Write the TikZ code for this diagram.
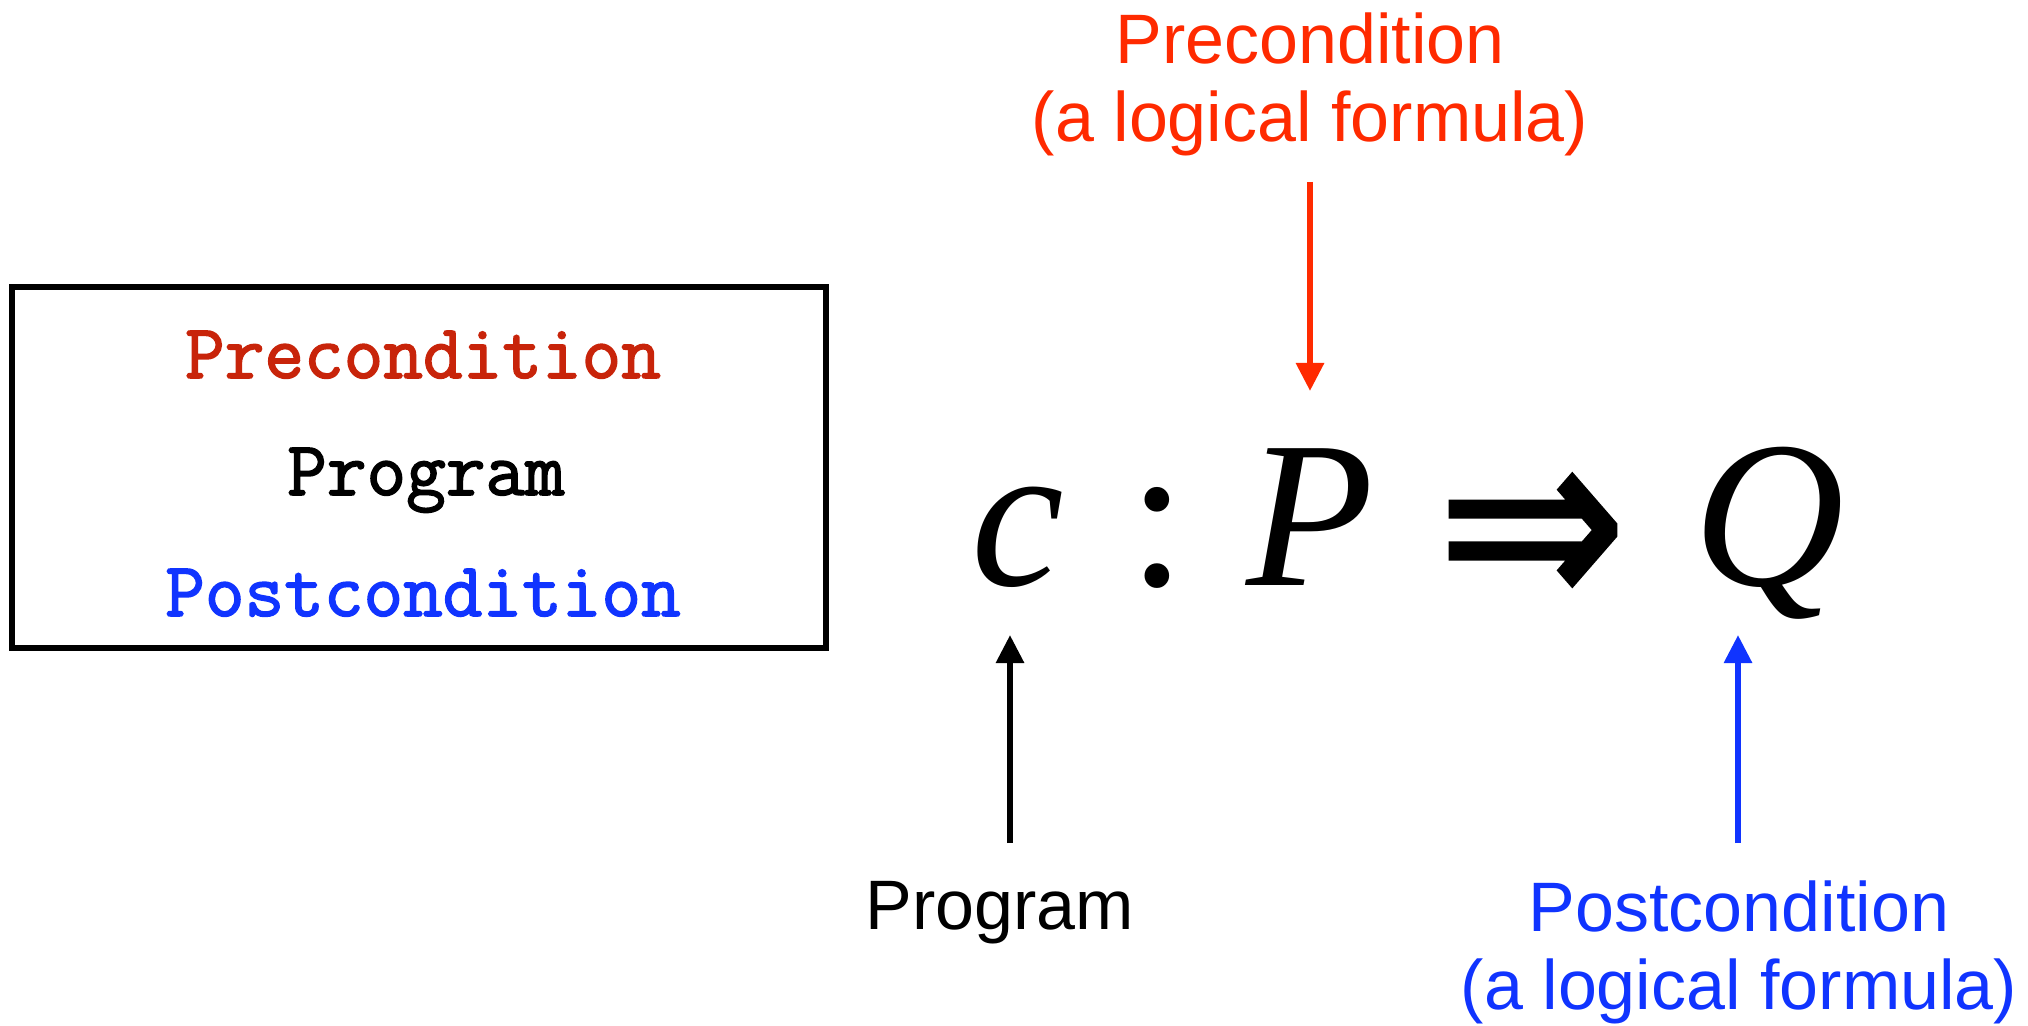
\documentclass[tikz,border=0pt]{standalone}
\usepackage{fontspec}
\usepackage{graphicx}
\setmainfont{Liberation Sans}
\newfontfamily\tms{Liberation Serif}
\newfontfamily\djv{DejaVu Sans}[FakeBold=1.5]
\newfontfamily\boxmono{Latin Modern Mono}[FakeBold=2]
\usetikzlibrary{arrows.meta}
\definecolor{boxred}{RGB}{200,36,10}
\definecolor{boxblue}{RGB}{16,52,255}
\definecolor{lblred}{RGB}{255,42,0}
\definecolor{lblblue}{RGB}{16,52,255}
\tikzset{
  boxtxt/.style={inner sep=0pt, anchor=base, font=\boxmono\fontsize{38.5}{40}\selectfont},
  lbl/.style={inner sep=0pt, anchor=base, align=center, font=\fontsize{35}{39}\selectfont},
  formula/.style={inner sep=0pt, anchor=base, font=\tms\fontsize{104.5}{110}\selectfont},
  arr/.style={line width=3pt, -{Triangle[width=13.5pt,length=14pt]}},
  frame/.style={draw, line width=3pt, minimum width=407pt, minimum height=180.5pt, inner sep=0pt}
}
\begin{document}
\begin{tikzpicture}[x=0.5pt,y={(0pt,-0.5pt)}]
\useasboundingbox[fill=white] (0,0) rectangle (2028,1026);
% left box
\node[frame] (box) at (419,467.5) {};
\node[boxtxt, text=boxred] (boxpre) at (423,378) {Precondition};
\node[boxtxt, text=black] (boxprog) at (426,495) {Program};
\node[boxtxt, text=boxblue] (boxpost) at (423,616) {Postcondition};
% formula
\node[formula] (c) at (1018,585) {\itshape c};
\node[formula] (colon) at (1158,585) {:};
\node[formula] (P) at (1310,585) {\itshape P};
\node[inner sep=0pt, font=\djv\fontsize{113}{120}\selectfont] (imp) at (1532,543) {\scalebox{1}[1.15]{⇒}};
\node[formula] (Q) at (1769,585) {\itshape Q};
% labels
\node[lbl, text=lblred] (prelbl) at (1310,142) {Precondition\\(a logical formula)};
\node[lbl, text=black] (proglbl) at (1000,929) {Program};
\node[lbl, text=lblblue] (postlbl) at (1739,1009) {Postcondition\\(a logical formula)};
% arrows
\coordinate (preTail) at (1310,182);
\coordinate (preTip) at (1310,391);
\coordinate (progTail) at (1010,843);
\coordinate (progTip) at (1010,635);
\coordinate (postTail) at (1738,843);
\coordinate (postTip) at (1738,635);
\draw[arr, lblred] (preTail) -- (preTip);
\draw[arr, black] (progTail) -- (progTip);
\draw[arr, lblblue] (postTail) -- (postTip);
\end{tikzpicture}
\end{document}
